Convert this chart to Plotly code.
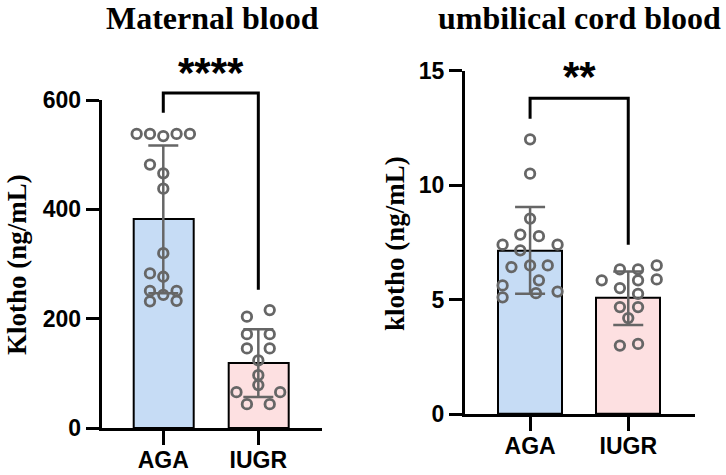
import plotly.graph_objects as go

W, H = 726, 475

categories = ["AGA", "IUGR"]

# Maternal blood (ng/mL)
maternal_means = [382, 119]
maternal_sd = [135, 62]
maternal_aga = [538, 538, 534, 538, 538, 482, 466, 438, 320, 283, 277, 251, 251, 244, 232, 233]
maternal_aga_jitter = [-0.28, -0.14, 0, 0.14, 0.28, -0.14, 0, 0, 0, -0.14, 0, -0.14, 0.14, 0, -0.14, 0.14]
maternal_iugr = [204, 216, 172, 172, 146, 146, 124, 97, 79, 66, 66, 44, 44]
maternal_iugr_jitter = [-0.12, 0.12, -0.12, 0.12, -0.12, 0.12, 0, 0, 0, -0.23, 0.23, -0.12, 0.12]

# Umbilical cord blood (ng/mL)
cord_means = [7.15, 5.06]
cord_sd = [1.9, 1.17]
cord_aga = [12.0, 10.5, 8.54, 7.84, 7.77, 7.40, 7.40, 7.15, 6.42, 6.49, 6.49, 5.84, 5.62, 5.28, 5.35, 5.10]
cord_aga_jitter = [0, 0, 0, -0.10, 0.09, -0.28, 0.28, -0.10, -0.19, 0, 0.18, 0.09, -0.28, 0.06, 0.28, -0.28]
cord_iugr = [5.84, 6.32, 6.32, 6.49, 5.84, 5.88, 5.50, 5.25, 4.67, 4.67, 4.19, 2.99, 3.06]
cord_iugr_jitter = [-0.27, -0.085, 0.10, 0.29, 0.10, 0.29, -0.085, 0.10, -0.085, 0.10, 0, -0.085, 0.10]

maternal_ticks = [0, 200, 400, 600]
cord_ticks = [0, 5, 10, 15]

BAR_COLORS = ["#c6dcf5", "#fde0e1"]
POINT = "#666666"
SANS = "Liberation Sans, Arial, sans-serif"
SERIF = "Liberation Serif, Times New Roman, serif"

left_x_range = [-0.648, 1.67]
right_x_range = [-0.663, 1.68]
left_y_range = [0, 600]
right_y_range = [0, 15]

fig = go.Figure()


def add_panel(xa, ya, means, sd, g1, j1, g2, j2, barw):
    fig.add_trace(go.Bar(
        x=[0, 1], y=means, width=barw, xaxis=xa, yaxis=ya,
        marker=dict(color=BAR_COLORS, line=dict(color="black", width=2)),
        error_y=dict(type="data", array=sd, visible=True, color=POINT, thickness=2.5, width=15),
        showlegend=False, hoverinfo="skip"))
    for gi, (vals, jit) in enumerate([(g1, j1), (g2, j2)]):
        fig.add_trace(go.Scatter(
            x=[gi + j for j in jit], y=vals, mode="markers", xaxis=xa, yaxis=ya,
            marker=dict(symbol="circle-open", size=9.5, color=POINT, line=dict(width=2.8, color=POINT)),
            cliponaxis=False, showlegend=False, hoverinfo="skip"))


add_panel("x", "y", maternal_means, maternal_sd, maternal_aga, maternal_aga_jitter,
          maternal_iugr, maternal_iugr_jitter, 0.63)
add_panel("x2", "y2", cord_means, cord_sd, cord_aga, cord_aga_jitter,
          cord_iugr, cord_iugr_jitter, 0.65)

axis_common = dict(showline=True, linewidth=3, linecolor="black", ticks="outside",
                   tickwidth=3, tickcolor="black", showgrid=False, zeroline=False,
                   automargin=False,
                   tickfont=dict(family=SANS, size=23, color="black", weight="bold"))

fig.update_layout(
    width=W, height=H, margin=dict(l=0, r=0, t=0, b=0, pad=0, autoexpand=False),
    paper_bgcolor="white", plot_bgcolor="white",
    bargap=0,
    xaxis=dict(domain=[101.7 / W, 322 / W], range=left_x_range, tickvals=[0, 1],
               ticktext=categories, ticklen=14, ticklabelstandoff=-5, anchor="y", **axis_common),
    yaxis=dict(domain=[(H - 428.3) / H, (H - 100) / H], range=left_y_range,
               tickvals=maternal_ticks, ticklen=13, anchor="x", **axis_common),
    xaxis2=dict(domain=[465 / W, 695 / W], range=right_x_range, tickvals=[0, 1],
                ticktext=categories, ticklen=14, ticklabelstandoff=-5, anchor="y2", **axis_common),
    yaxis2=dict(domain=[(H - 414) / H, (H - 70.7) / H], range=right_y_range,
                tickvals=cord_ticks, ticklen=13, anchor="x2", **axis_common),
)


def frac(v, r):
    return (v - r[0]) / (r[1] - r[0])


def bracket(xax, yax, xr, yr, top, left_bottom, right_bottom, stars, star_y):
    x0, x1 = frac(0, xr), frac(1, xr)
    yt, yl, yrb = frac(top, yr), frac(left_bottom, yr), frac(right_bottom, yr)
    fig.add_shape(type="path",
                  path=f"M {x0} {yl} L {x0} {yt} L {x1} {yt} L {x1} {yrb}",
                  xref=f"{xax} domain", yref=f"{yax} domain",
                  line=dict(color="black", width=3))
    fig.add_annotation(x=frac(0.5, xr), y=frac(star_y, yr), xref=f"{xax} domain", yref=f"{yax} domain",
                       text=stars, showarrow=False, xanchor="center", yanchor="middle",
                       font=dict(family=SANS, size=42, color="black", weight="bold"))


bracket("x", "y", left_x_range, left_y_range, 612.8, 576.7, 253, "****", 650)
bracket("x2", "y2", right_x_range, right_y_range, 13.8, 12.9, 7.39, "**", 14.75)

fig.add_annotation(x=212 / W, y=(H - 18) / H, xref="paper", yref="paper", text="Maternal blood",
                   showarrow=False, font=dict(family=SERIF, size=32, color="black", weight="bold"),
                   xanchor="center", yanchor="middle")
fig.add_annotation(x=579 / W, y=(H - 18) / H, xref="paper", yref="paper", text="umbilical cord blood",
                   showarrow=False, font=dict(family=SERIF, size=32, color="black", weight="bold"),
                   xanchor="center", yanchor="middle")

fig.add_annotation(x=17 / W, y=(H - 265) / H, xref="paper", yref="paper", text="Klotho (ng/mL)",
                   textangle=-90, showarrow=False,
                   font=dict(family=SERIF, size=27, color="black", weight="bold"),
                   xanchor="center", yanchor="middle")
fig.add_annotation(x=395 / W, y=(H - 244) / H, xref="paper", yref="paper", text="klotho (ng/mL)",
                   textangle=-90, showarrow=False,
                   font=dict(family=SERIF, size=27, color="black", weight="bold"),
                   xanchor="center", yanchor="middle")

fig.write_html("out.html", config={"displayModeBar": False},
               post_script="document.body.style.margin='0';document.body.style.overflow='hidden';")
